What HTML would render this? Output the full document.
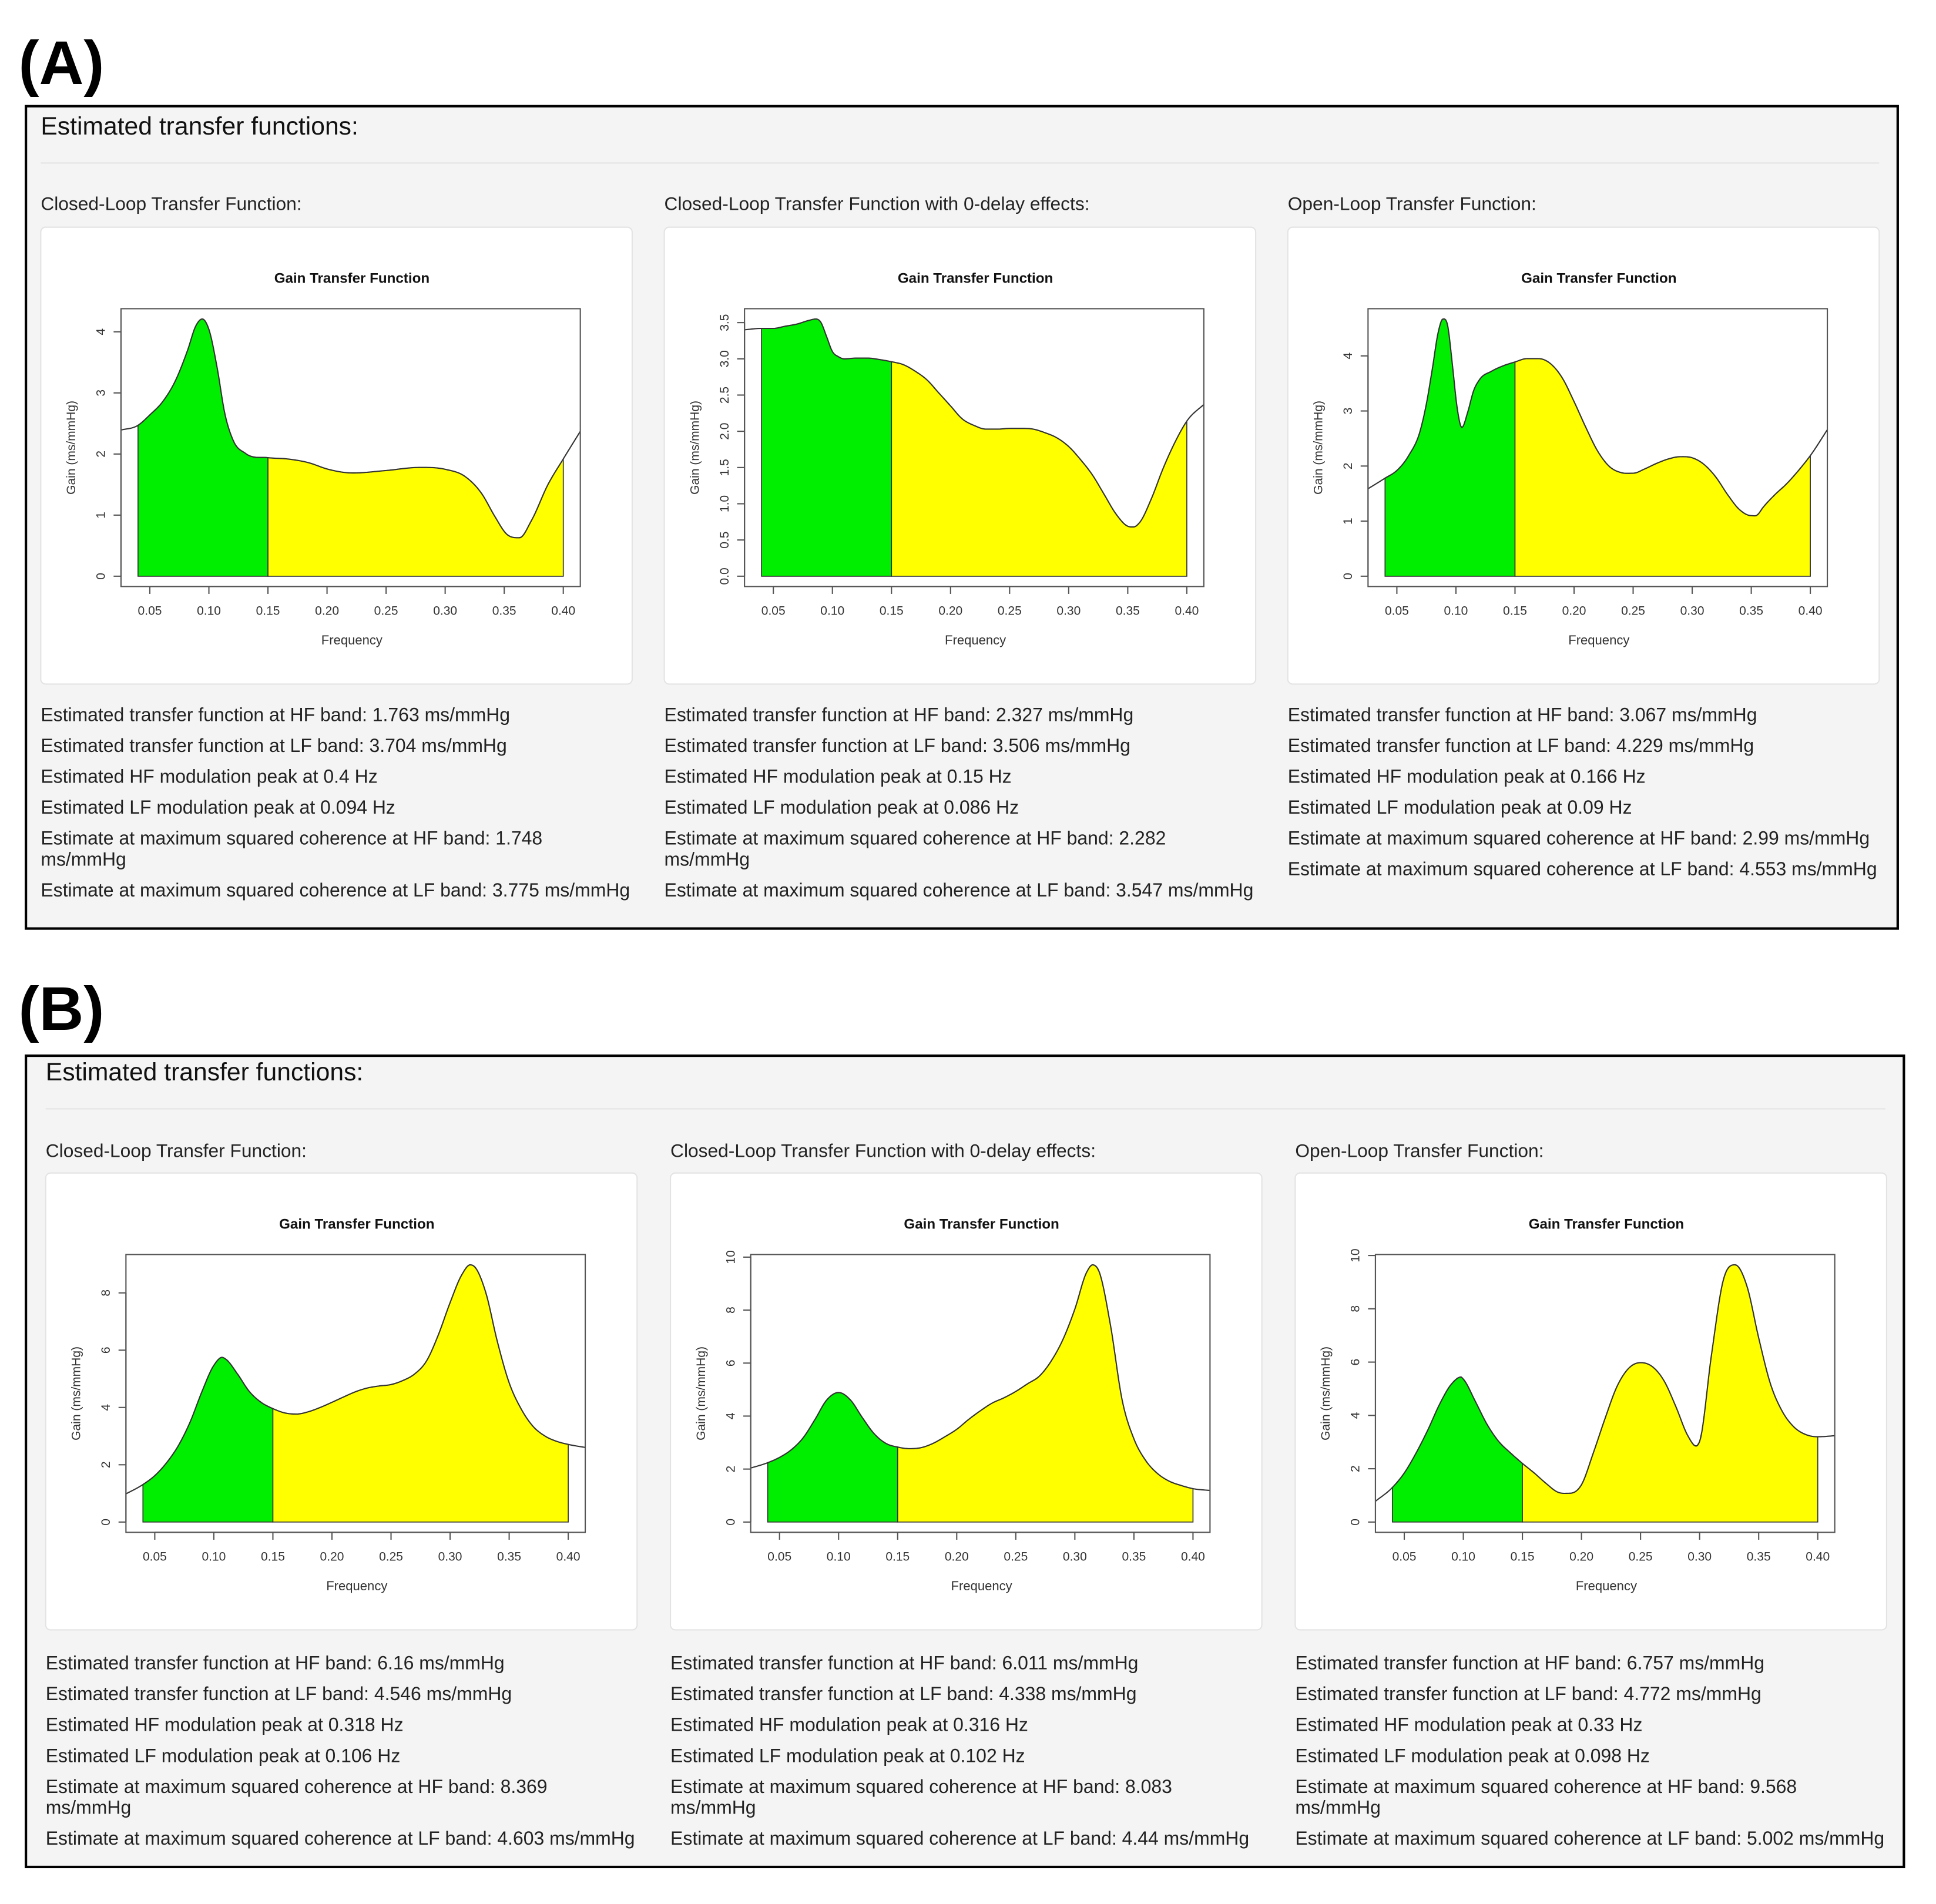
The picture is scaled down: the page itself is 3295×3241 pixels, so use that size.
<!DOCTYPE html>
<html><head><meta charset="utf-8"><style>
html,body{margin:0;padding:0;background:#fff}
svg{display:block}
text{font-family:"Liberation Sans",Arial,sans-serif}
</style></head><body>
<svg id="root" width="3295" height="3241" viewBox="0 0 1568 1542" preserveAspectRatio="none" xmlns="http://www.w3.org/2000/svg"></svg>
<script>
// ---- Data ----
const freqA1=[0.025,0.04,0.05,0.061,0.0714,0.082,0.089,0.0944,0.10,0.107,0.1134,0.1204,0.131,0.15,0.166,0.184,0.201,0.222,0.25,0.278,0.30,0.317,0.331,0.342,0.352,0.363,0.373,0.387,0.40,0.415];
const gainA1=[2.39,2.47,2.64,2.86,3.19,3.7,4.1,4.21,4.04,3.41,2.67,2.23,2.01,1.94,1.92,1.86,1.75,1.69,1.73,1.78,1.75,1.63,1.35,0.98,0.69,0.63,0.91,1.50,1.92,2.39];
const freqA2=[0.025,0.04,0.05,0.06,0.07,0.08,0.086,0.09,0.095,0.10,0.105,0.11,0.12,0.13,0.14,0.15,0.16,0.17,0.18,0.19,0.20,0.21,0.22,0.23,0.24,0.25,0.26,0.27,0.28,0.29,0.30,0.31,0.32,0.33,0.34,0.35,0.355,0.36,0.37,0.38,0.39,0.40,0.415];
const gainA2=[3.40,3.42,3.42,3.45,3.48,3.53,3.55,3.51,3.31,3.10,3.03,3.00,3.01,3.01,2.99,2.96,2.92,2.83,2.71,2.53,2.35,2.17,2.08,2.03,2.03,2.04,2.04,2.03,1.98,1.91,1.79,1.61,1.40,1.13,0.86,0.69,0.68,0.74,1.07,1.49,1.85,2.14,2.38];
const freqA3=[0.025,0.04,0.05,0.06,0.07,0.075,0.08,0.085,0.089,0.093,0.097,0.101,0.105,0.11,0.115,0.12,0.13,0.14,0.15,0.16,0.17,0.18,0.19,0.20,0.21,0.22,0.23,0.24,0.25,0.26,0.27,0.28,0.29,0.30,0.31,0.32,0.33,0.34,0.35,0.355,0.36,0.37,0.38,0.39,0.40,0.415];
const gainA3=[1.58,1.78,1.92,2.19,2.66,3.13,3.76,4.43,4.67,4.55,3.84,3.06,2.70,2.98,3.37,3.57,3.72,3.82,3.89,3.95,3.95,3.86,3.60,3.17,2.70,2.27,1.99,1.88,1.87,1.95,2.05,2.13,2.17,2.15,2.03,1.80,1.48,1.21,1.10,1.11,1.25,1.48,1.68,1.92,2.19,2.68];
const freqB1=[0.025,0.04,0.05,0.06,0.07,0.08,0.09,0.10,0.107,0.11,0.12,0.13,0.14,0.15,0.16,0.17,0.18,0.19,0.20,0.21,0.22,0.23,0.24,0.25,0.26,0.27,0.28,0.29,0.30,0.31,0.317,0.32,0.33,0.34,0.35,0.36,0.37,0.38,0.39,0.40,0.415];
const gainB1=[0.97,1.31,1.62,2.07,2.67,3.50,4.56,5.47,5.75,5.69,5.17,4.56,4.18,3.96,3.81,3.77,3.85,4.00,4.18,4.37,4.55,4.68,4.75,4.80,4.94,5.17,5.62,6.53,7.66,8.64,8.98,8.94,8.04,6.30,4.86,3.96,3.35,3.01,2.82,2.71,2.60];
const freqB2=[0.025,0.04,0.05,0.06,0.07,0.08,0.09,0.10,0.11,0.12,0.13,0.14,0.15,0.16,0.17,0.18,0.19,0.20,0.21,0.22,0.23,0.24,0.25,0.26,0.27,0.28,0.29,0.30,0.31,0.315,0.32,0.33,0.34,0.35,0.36,0.37,0.38,0.39,0.40,0.415];
const gainB2=[2.03,2.24,2.44,2.73,3.18,3.87,4.61,4.89,4.61,3.95,3.34,2.97,2.83,2.77,2.81,2.97,3.22,3.50,3.87,4.20,4.49,4.69,4.93,5.22,5.51,6.08,6.90,8.04,9.43,9.71,9.51,7.47,4.61,3.14,2.32,1.83,1.54,1.38,1.26,1.19];
const freqB3=[0.025,0.04,0.05,0.06,0.07,0.08,0.09,0.098,0.10,0.11,0.12,0.13,0.14,0.15,0.16,0.17,0.18,0.19,0.20,0.21,0.22,0.23,0.24,0.25,0.26,0.27,0.28,0.29,0.297,0.30,0.31,0.32,0.33,0.34,0.35,0.36,0.37,0.38,0.39,0.40,0.415];
const gainB3=[0.76,1.30,1.84,2.59,3.46,4.43,5.18,5.44,5.36,4.54,3.67,3.02,2.59,2.20,1.84,1.45,1.12,1.08,1.40,2.59,3.89,5.08,5.77,5.98,5.83,5.29,4.32,3.24,2.85,3.02,6.26,9.07,9.65,8.86,6.91,5.18,4.15,3.56,3.28,3.20,3.24];
const xTicks=[0.05,0.10,0.15,0.20,0.25,0.30,0.35,0.40];
const xTickLabels=["0.05","0.10","0.15","0.20","0.25","0.30","0.35","0.40"];
const yTicksA1=[0,1,2,3,4];
const yTicksA2=[0,0.5,1,1.5,2,2.5,3,3.5];
const yTicksA2Labels=["0.0","0.5","1.0","1.5","2.0","2.5","3.0","3.5"];
const yTicksA3=[0,1,2,3,4];
const yTicksB1=[0,2,4,6,8];
const yTicksB23=[0,2,4,6,8,10];
const bandLF=[0.04,0.15];
const bandHF=[0.15,0.40];
const colTitles=["Closed-Loop Transfer Function:","Closed-Loop Transfer Function with 0-delay effects:","Open-Loop Transfer Function:"];
const textA=[
["Estimated transfer function at HF band: 1.763 ms/mmHg","Estimated transfer function at LF band: 3.704 ms/mmHg","Estimated HF modulation peak at 0.4 Hz","Estimated LF modulation peak at 0.094 Hz","Estimate at maximum squared coherence at HF band: 1.748|ms/mmHg","Estimate at maximum squared coherence at LF band: 3.775 ms/mmHg"],
["Estimated transfer function at HF band: 2.327 ms/mmHg","Estimated transfer function at LF band: 3.506 ms/mmHg","Estimated HF modulation peak at 0.15 Hz","Estimated LF modulation peak at 0.086 Hz","Estimate at maximum squared coherence at HF band: 2.282|ms/mmHg","Estimate at maximum squared coherence at LF band: 3.547 ms/mmHg"],
["Estimated transfer function at HF band: 3.067 ms/mmHg","Estimated transfer function at LF band: 4.229 ms/mmHg","Estimated HF modulation peak at 0.166 Hz","Estimated LF modulation peak at 0.09 Hz","Estimate at maximum squared coherence at HF band: 2.99 ms/mmHg","Estimate at maximum squared coherence at LF band: 4.553 ms/mmHg"]];
const textB=[
["Estimated transfer function at HF band: 6.16 ms/mmHg","Estimated transfer function at LF band: 4.546 ms/mmHg","Estimated HF modulation peak at 0.318 Hz","Estimated LF modulation peak at 0.106 Hz","Estimate at maximum squared coherence at HF band: 8.369|ms/mmHg","Estimate at maximum squared coherence at LF band: 4.603 ms/mmHg"],
["Estimated transfer function at HF band: 6.011 ms/mmHg","Estimated transfer function at LF band: 4.338 ms/mmHg","Estimated HF modulation peak at 0.316 Hz","Estimated LF modulation peak at 0.102 Hz","Estimate at maximum squared coherence at HF band: 8.083|ms/mmHg","Estimate at maximum squared coherence at LF band: 4.44 ms/mmHg"],
["Estimated transfer function at HF band: 6.757 ms/mmHg","Estimated transfer function at LF band: 4.772 ms/mmHg","Estimated HF modulation peak at 0.33 Hz","Estimated LF modulation peak at 0.098 Hz","Estimate at maximum squared coherence at HF band: 9.568|ms/mmHg","Estimate at maximum squared coherence at LF band: 5.002 ms/mmHg"]];

const NS="http://www.w3.org/2000/svg";
const root=document.getElementById('root');
function mk(tag,attrs,parent){const e=document.createElementNS(NS,tag);for(const k in attrs)e.setAttribute(k,attrs[k]);(parent||root).appendChild(e);return e;}
function txt(s,x,y,size,parent,extra){const t=mk('text',Object.assign({x:x,y:y,'font-size':size,fill:'#222'},extra||{}),parent);t.textContent=s;return t;}

function interp(fs,gs,f){
  let i=0;while(i<fs.length-2&&f>fs[i+1])i++;
  const x0=fs[i],x1=fs[i+1],y0=gs[i],y1=gs[i+1],h=x1-x0;
  const sl=(k)=>{if(k<=0)return (gs[1]-gs[0])/(fs[1]-fs[0]);if(k>=fs.length-1)return (gs[k]-gs[k-1])/(fs[k]-fs[k-1]);
    const a=(gs[k]-gs[k-1])/(fs[k]-fs[k-1]),b=(gs[k+1]-gs[k])/(fs[k+1]-fs[k]);if(a*b<=0)return 0;
    const w1=fs[k+1]-fs[k],w0=fs[k]-fs[k-1];return (a*w1+b*w0)/(w0+w1);};
  const m0=sl(i)*h,m1=sl(i+1)*h,t=Math.min(1,Math.max(0,(f-x0)/h)),t2=t*t,t3=t2*t;
  return (2*t3-3*t2+1)*y0+(t3-2*t2+t)*m0+(-2*t3+3*t2)*y1+(t3-t2)*m1;
}

let clipId=0;
function chart(bx,by,fs,gs,yt,ytl,name){
  const g=mk('g',{});
  
  
  const card=mk('rect',{x:bx,y:by,width:479,height:370,rx:4,fill:'#fff',stroke:'#e3e3e3','stroke-width':1},g);
  
  
  const px0=bx+65,px1=bx+437,py0=by+66,py1=by+291;
  const xmin=0.04,xmax=0.40,xr=xmax-xmin;
  const xs=f=>px0+(f-(xmin-0.04*xr))/(xr*1.08)*(px1-px0);
  let ymax=0;for(let i=0;i<fs.length;i++)if(fs[i]>=xmin&&fs[i]<=xmax)ymax=Math.max(ymax,gs[i]);
  const ys=v=>py1-(v+0.04*ymax)/(ymax*1.08)*(py1-py0);
  const title=txt('Gain Transfer Function',bx+252,by+45,11.5,g,{'font-weight':'bold','text-anchor':'middle',fill:'#111'});
  
  
  const cid='c'+(clipId++);
  const cp=mk('clipPath',{id:cid},g);mk('rect',{x:px0,y:py0,width:px1-px0,height:py1-py0},cp);
  function band(a,b,col,nm){
    let d='M'+xs(a)+','+ys(0);
    for(let k=0;k<=120;k++){const f=a+(b-a)*k/120;d+=' L'+xs(f).toFixed(2)+','+ys(interp(fs,gs,f)).toFixed(2);}
    d+=' L'+xs(b)+','+ys(0)+' Z';
    const p=mk('path',{d:d,fill:col,stroke:'#333','stroke-width':0.8},g);
    
    
  }
  band(bandLF[0],bandLF[1],'#00ee00','lf-band-area');
  band(bandHF[0],bandHF[1],'#ffff00','hf-band-area');
  let d='';const f0=fs[0],f1=fs[fs.length-1];
  for(let k=0;k<=400;k++){const f=f0+(f1-f0)*k/400;d+=(k?' L':'M')+xs(f).toFixed(2)+','+ys(interp(fs,gs,f)).toFixed(2);}
  const ln=mk('path',{d:d,fill:'none',stroke:'#333','stroke-width':1,'clip-path':'url(#'+cid+')'},g);
  
  
  const box=mk('rect',{x:px0,y:py0,width:px1-px0,height:py1-py0,fill:'none',stroke:'#555','stroke-width':1},g);
  
  
  mk('line',{x1:xs(xTicks[0]),x2:xs(xTicks[xTicks.length-1]),y1:py1,y2:py1,stroke:'#555','stroke-width':1},g);
  xTicks.forEach((t,i)=>{
    mk('line',{x1:xs(t),x2:xs(t),y1:py1,y2:py1+6,stroke:'#555','stroke-width':1},g);
    const l=txt(xTickLabels[i],xs(t),py1+23,10,g,{'text-anchor':'middle',fill:'#333'});
    
    
  });
  mk('line',{x1:px0,x2:px0,y1:ys(yt[0]),y2:ys(yt[yt.length-1]),stroke:'#555','stroke-width':1},g);
  yt.forEach((t,i)=>{
    mk('line',{x1:px0-6,x2:px0,y1:ys(t),y2:ys(t),stroke:'#555','stroke-width':1},g);
    const lx=bx+52,ly=ys(t);
    const l=txt(ytl?ytl[i]:String(t),lx,ly,10,g,{'text-anchor':'middle',fill:'#333',transform:'rotate(-90 '+lx+' '+ly+')'});
    
    
  });
  const xl=txt('Frequency',bx+252,by+338,10.5,g,{'text-anchor':'middle',fill:'#333'});
  
  
  const yx=bx+28,yy=(py0+py1)/2;
  const yl=txt('Gain (ms/mmHg)',yx,yy,10,g,{'text-anchor':'middle',fill:'#333',transform:'rotate(-90 '+yx+' '+yy+')'});
  
  
}

function panel(label,ly,bx,by,bw,bh,colX,hdrY,sepY,colTitleY,cardY,textY,texts,charts){
  const lab=txt(label,15,ly,50,root,{'font-weight':'bold',fill:'#000'});
  
  
  const r=mk('rect',{x:bx,y:by,width:bw,height:bh,fill:'#f4f4f4',stroke:'#000','stroke-width':2});
  
  
  const h=txt('Estimated transfer functions:',colX[0],hdrY,20.3,root,{fill:'#111'});
  
  
  mk('line',{x1:colX[0],x2:bx+bw-15,y1:sepY,y2:sepY,stroke:'#e4e4e4','stroke-width':1});
  for(let c=0;c<3;c++){
    const ct=txt(colTitles[c],colX[c],colTitleY,15.1,root,{fill:'#222'});
    
    
    charts[c](colX[c],cardY);
    let y=textY;
    texts[c].forEach(s=>{
      const parts=s.split('|');
      parts.forEach((p,j)=>{
        const t=txt(p,colX[c],y+(j?17:0),15.2,root,{fill:'#222'});
        
        
      });
      y+=25+(parts.length>1?17:0);
    });
  }
}

panel('(A)',68,21,86,1516,666,[33,538,1043],109,132,170,184,584,textA,[
  (x,y)=>chart(x,y,freqA1,gainA1,yTicksA1,null,'chart-a-closed-loop'),
  (x,y)=>chart(x,y,freqA2,gainA2,yTicksA2,yTicksA2Labels,'chart-a-zero-delay'),
  (x,y)=>chart(x,y,freqA3,gainA3,yTicksA3,null,'chart-a-open-loop')]);
panel('(B)',834,21,855,1521,657,[37,543,1049],875,898,937,950,1352,textB,[
  (x,y)=>chart(x,y,freqB1,gainB1,yTicksB1,null,'chart-b-closed-loop'),
  (x,y)=>chart(x,y,freqB2,gainB2,yTicksB23,null,'chart-b-zero-delay'),
  (x,y)=>chart(x,y,freqB3,gainB3,yTicksB23,null,'chart-b-open-loop')]);
</script>
</body></html>
